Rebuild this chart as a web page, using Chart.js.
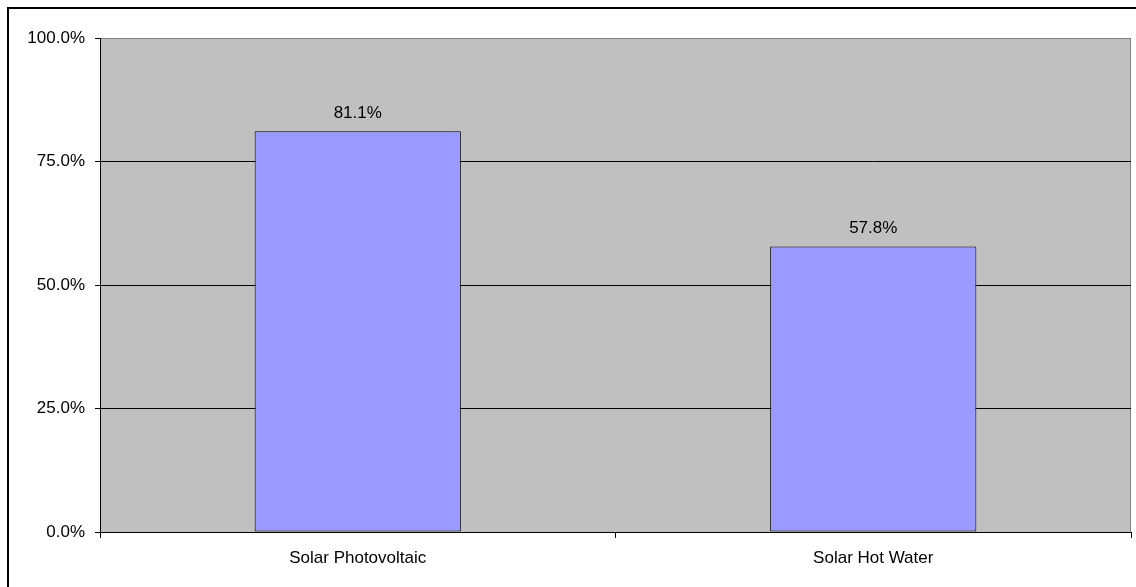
<!DOCTYPE html>
<html>
<head>
<meta charset="utf-8">
<script src="https://cdn.jsdelivr.net/npm/chart.js@4/dist/chart.umd.min.js"></script>
<style>
  html, body { margin: 0; padding: 0; background: #fff; overflow: hidden; }
  #wrap { position: relative; width: 1136px; height: 587px; }
  #frame {
    position: absolute; left: 7px; top: 7px; width: 1140px; height: 600px;
    border: 2px solid #000; box-sizing: border-box; pointer-events: none;
  }
  canvas { position: absolute; left: 0; top: 0; }
</style>
</head>
<body>
<div id="wrap">
  <canvas id="solarChart" width="1136" height="587"></canvas>
  <div id="frame"></div>
</div>
<script>
// share of respondents per technology (percent)
var categories = ['Solar Photovoltaic', 'Solar Hot Water'];
var shares = [81.1, 57.8];
var yTicks = [0, 25, 50, 75, 100];

var FONT = '"Liberation Sans", Arial, sans-serif';

// grey plot background plus the thin grey top/right edges
var plotBackground = {
  id: 'plotBackground',
  beforeDraw: function(chart) {
    var a = chart.chartArea, c = chart.ctx;
    c.save();
    c.fillStyle = '#C0C0C0';
    c.fillRect(a.left, a.top, a.right - a.left, a.bottom - a.top);
    c.strokeStyle = '#808080';
    c.lineWidth = 1;
    c.beginPath();
    c.moveTo(a.left, a.top + 0.5);
    c.lineTo(a.right - 0.5, a.top + 0.5);
    c.lineTo(a.right - 0.5, a.bottom);
    c.stroke();
    c.restore();
  }
};

// value labels above each bar
var barValues = {
  id: 'barValues',
  afterDatasetsDraw: function(chart) {
    var c = chart.ctx;
    var meta = chart.getDatasetMeta(0);
    c.save();
    c.font = '17px ' + FONT;
    c.fillStyle = '#000';
    c.textAlign = 'center';
    c.textBaseline = 'alphabetic';
    meta.data.forEach(function(bar, i) {
      c.fillText(shares[i].toFixed(1) + '%', bar.x, bar.y - 13);
    });
    c.restore();
  }
};

new Chart(document.getElementById('solarChart').getContext('2d'), {
  type: 'bar',
  data: {
    labels: categories,
    datasets: [{
      data: shares,
      backgroundColor: '#9999FF',
      borderColor: '#000',
      borderWidth: 1,
      borderSkipped: false,
      barPercentage: 0.4,
      categoryPercentage: 1.0
    }]
  },
  options: {
    responsive: false,
    devicePixelRatio: 1,
    animation: false,
    layout: { padding: { top: 38, right: 5, left: 0, bottom: 0 } },
    plugins: {
      legend: { display: false },
      tooltip: { enabled: false }
    },
    scales: {
      x: {
        offset: true,
        afterFit: function(scale) { scale.height = 55; },
        grid: {
          offset: true,
          drawOnChartArea: false,
          drawTicks: true,
          tickLength: 6,
          tickColor: '#000'
        },
        border: { color: '#000', width: 1 },
        ticks: {
          color: '#000',
          padding: 10,
          maxRotation: 0,
          font: { family: FONT, size: 17 }
        }
      },
      y: {
        min: 0,
        max: 100,
        afterFit: function(scale) { scale.width = 100; },
        afterBuildTicks: function(scale) {
          scale.ticks = yTicks.map(function(v) { return { value: v }; });
        },
        grid: {
          color: function(ctx) { return ctx.tick && ctx.tick.value === 100 ? '#808080' : '#000'; },
          lineWidth: 1,
          drawTicks: true,
          tickLength: 5,
          tickColor: '#000'
        },
        border: { color: '#000', width: 1 },
        ticks: {
          color: '#000',
          padding: 10,
          font: { family: FONT, size: 17 },
          callback: function(v) { return Number(v).toFixed(1) + '%'; }
        }
      }
    }
  },
  plugins: [plotBackground, barValues]
});
</script>
</body>
</html>
